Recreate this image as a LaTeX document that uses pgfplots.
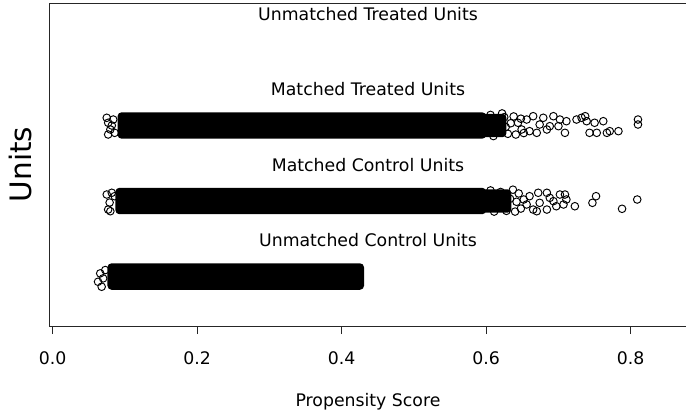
\documentclass[border=0pt]{standalone}
\usepackage{fontspec}
\setmainfont{DejaVu Sans}
\usepackage{pgfplots}
\pgfplotsset{compat=1.18}
\begin{document}
\begin{tikzpicture}
\begin{axis}[
  scale only axis, width=637bp, height=323bp,
  xmin=-0.0043, xmax=0.8773, ymin=0.344, ymax=4.622,
  axis line style={line width=0.8bp, black!85},
  xtick={0,0.2,0.4,0.6,0.8},
  xticklabels={0.0,0.2,0.4,0.6,0.8},
  ytick=\empty,
  xtick pos=bottom, tick align=outside, major tick length=8bp,
  every tick/.style={black!85, line width=0.8bp},
  xticklabel style={font=\fontsize{17.3bp}{20bp}\selectfont, anchor=base, yshift=-30.5bp},
  typeset ticklabels with strut=false,
  xticklabel shift=0pt,
  xlabel={Propensity Score},
  xlabel style={font=\fontsize{17.3bp}{20bp}\selectfont, at={(axis description cs:0.5,0)}, anchor=base, yshift=-80.7bp},
  mark size=3.8bp,
  clip=false,
]
% dense bands
\addplot[fill=black, draw=none, rounded corners=4bp] coordinates {(0.076,0.825) (0.431,0.825) (0.431,1.175) (0.076,1.175)} -- cycle;
\addplot[fill=black, draw=none, rounded corners=4bp] coordinates {(0.087,1.825) (0.600,1.825) (0.600,2.175) (0.087,2.175)} -- cycle;
\addplot[fill=black, draw=none, rounded corners=4bp] coordinates {(0.59,1.845) (0.635,1.845) (0.635,2.155) (0.59,2.155)} -- cycle;
\addplot[fill=black, draw=none, rounded corners=4bp] coordinates {(0.090,2.825) (0.600,2.825) (0.600,3.175) (0.090,3.175)} -- cycle;
\addplot[fill=black, draw=none, rounded corners=4bp] coordinates {(0.59,2.845) (0.628,2.845) (0.628,3.155) (0.59,3.155)} -- cycle;
% matched treated
\addplot[only marks, mark=o, mark options={line width=0.95bp, black}] coordinates {
(0.075,3.102) (0.077,3.036) (0.080,2.947) (0.077,2.881) (0.084,3.079) (0.086,2.903) (0.082,3.0)
(0.625,3.11) (0.630,2.89) (0.634,3.03) (0.638,3.12) (0.641,2.88) (0.644,3.036) (0.648,3.09)
(0.649,2.947) (0.652,2.90) (0.656,3.079) (0.660,2.925) (0.665,3.123) (0.670,2.903) (0.674,3.013)
(0.679,3.102) (0.684,2.947) (0.688,2.991) (0.693,3.123) (0.700,2.991) (0.702,3.079) (0.709,2.903)
(0.711,3.057) (0.725,3.079) (0.732,3.102) (0.737,3.123) (0.739,3.057) (0.743,2.903) (0.750,3.036)
(0.753,2.903) (0.762,3.057) (0.767,2.903) (0.771,2.925) (0.783,2.925) (0.810,3.079) (0.810,3.013)
(0.606,3.14) (0.610,2.86) (0.615,3.05) (0.619,2.93) (0.622,3.16) (0.627,2.98)
};
% matched control
\addplot[only marks, mark=o, mark options={line width=0.95bp, black}] coordinates {
(0.075,2.086) (0.077,1.887) (0.082,2.109) (0.080,1.865) (0.086,2.064) (0.079,1.98)
(0.620,2.12) (0.628,1.87) (0.633,2.03) (0.640,1.86) (0.645,2.10) (0.648,1.90) (0.652,2.02)
(0.656,1.954) (0.660,2.064) (0.665,1.887) (0.670,1.865) (0.672,2.109) (0.674,1.976) (0.684,2.109)
(0.684,1.887) (0.688,2.042) (0.693,1.998) (0.697,1.931) (0.702,2.086) (0.707,1.954) (0.709,2.086)
(0.711,2.020) (0.7227,1.931) (0.747,1.976) (0.752,2.064) (0.788,1.897) (0.809,2.02)
(0.606,2.14) (0.611,1.86) (0.616,2.05) (0.624,1.94) (0.637,2.15) (0.642,1.99)
};
% unmatched control
\addplot[only marks, mark=o, mark options={line width=0.95bp, black}] coordinates {
(0.063,0.931) (0.066,1.042) (0.068,0.865) (0.073,1.086) (0.070,0.976)
};
\begin{scope}[every node/.style={font=\fontsize{17.3bp}{20bp}\selectfont, anchor=base, yshift=-8bp}]
\node at (axis cs:0.4365,4.5) {Unmatched Treated Units};
\node at (axis cs:0.4365,3.5) {Matched Treated Units};
\node at (axis cs:0.4365,2.5) {Matched Control Units};
\node at (axis cs:0.4365,1.5) {Unmatched Control Units};
\end{scope}
\end{axis}
\node[rotate=90, anchor=base, font=\fontsize{29.5bp}{32bp}\selectfont] at ([xshift=-17.7bp]current axis.west) {Units};
\pgfresetboundingbox
\path[use as bounding box] ([xshift=-49.4bp, yshift=-88bp]current axis.south west) rectangle ([xshift=-0.6bp, yshift=3bp]current axis.north east);
\end{tikzpicture}
\end{document}
